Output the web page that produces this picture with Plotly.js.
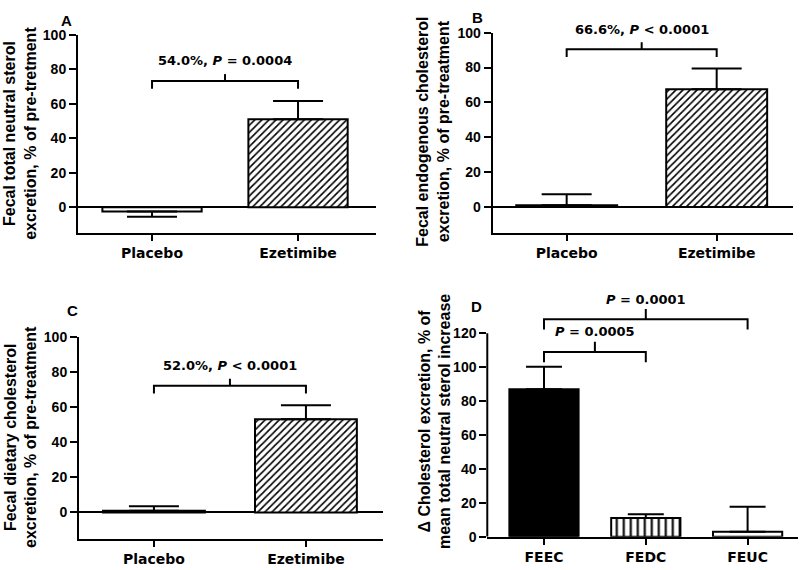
<!DOCTYPE html>
<html>
<head>
<meta charset="utf-8">
<script src="https://cdn.plot.ly/plotly-3.0.1.min.js"></script>
<style>
    body { margin: 0; background: #fff; }
    #fig { width: 800px; height: 570px; }
</style>
</head>
<body>
<div id="fig"></div>
<script>
// values (% of pre-treatment / % of increase)
let groupCats = ['Placebo', 'Ezetimibe'];
let meanA = [-2.5, 51];
let errUpA = [0, 10.6];
let errDownA = [3.1, 0];
let meanB = [1, 67.5];
let errUpB = [6.3, 12];
let meanC = [1, 53.2];
let errUpC = [2.5, 8];

let sourceCats = ['FEEC', 'FEDC', 'FEUC'];
let meanD = [87, 11, 2.9];
let errUpD = [13.3, 2.3, 14.8];

// significance brackets: [from, to, height], labels
let bracketA = [[0, 1, 73.3]];
let labelA = ['54.0%, <i>P</i> = 0.0004'];
let bracketB = [[0, 1, 90.5]];
let labelB = ['66.6%, <i>P</i> < 0.0001'];
let bracketC = [[0, 1, 72.4]];
let labelC = ['52.0%, <i>P</i> < 0.0001'];
let bracketD = [[0, 1, 109], [0, 2, 128.3]];
let labelD = ['<i>P</i> = 0.0005', '<i>P</i> = 0.0001'];

let yTicksTop = [0, 20, 40, 60, 80, 100];
let yTicksD = [0, 20, 40, 60, 80, 100, 120];

let titleA = 'Fecal total neutral sterol<br>excretion, % of pre-tretment';
let titleB = 'Fecal endogenous cholesterol<br>excretion, % of pre-treatment';
let titleC = 'Fecal dietary cholesterol<br>excretion, % of pre-treatment';
let titleD = 'Δ Cholesterol excretion, % of<br>mean total neutral sterol increase';

const ARIAL = 'Liberation Sans, Arial, sans-serif';
const WIDE = 'DejaVu Sans, sans-serif';

let data = [];
let annotations = [];
let shapes = [];

// one trace per bar so every pattern setting stays scalar
function addBars(n, cats, means, errUp, errDown, fills, hatch, barWidth, cap) {
    for (let i = 0; i < cats.length; i++) {
        let marker = {
            color: fills[i],
            line: { color: 'black', width: 2 }
        };
        if (hatch[i]) {
            marker.pattern = {
                shape: hatch[i],
                fgcolor: 'black',
                bgcolor: 'white',
                size: hatch[i] === '|' ? 7 : 5,
                solidity: hatch[i] === '|' ? 0.3 : 0.32,
                fillmode: 'replace'
            };
        }
        data.push({
            type: 'bar',
            x: [i],
            y: [means[i]],
            width: barWidth,
            xaxis: 'x' + n,
            yaxis: 'y' + n,
            marker: marker,
            error_y: {
                type: 'data',
                symmetric: false,
                array: [errUp[i]],
                arrayminus: [errDown[i]],
                color: 'black',
                thickness: 2,
                width: cap
            },
            hoverinfo: 'skip'
        });
    }
}

function addBrackets(n, brackets, labels, drop, tick) {
    for (let i = 0; i < brackets.length; i++) {
        let [a, b, h] = brackets[i];
        let mid = (a + b) / 2;
        data.push({
            type: 'scatter',
            mode: 'lines',
            x: [a, a, b, b, null, mid, mid],
            y: [h - drop, h, h, h - drop, null, h, h + tick],
            xaxis: 'x' + n,
            yaxis: 'y' + n,
            line: { color: 'black', width: 2 },
            hoverinfo: 'skip'
        });
        annotations.push({
            xref: 'x' + n, yref: 'y' + n,
            x: mid, y: h,
            yshift: 20,
            text: '<b>' + labels[i] + '</b>',
            showarrow: false,
            font: { family: WIDE, size: 13, color: 'black' }
        });
    }
}

addBars(1, groupCats, meanA, errUpA, errDownA, ['white', 'white'], ['', '/'], 0.68, 25);
addBars(2, groupCats, meanB, errUpB, [0, 0], ['white', 'white'], ['', '/'], 0.673, 25);
addBars(3, groupCats, meanC, errUpC, [0, 0], ['white', 'white'], ['', '/'], 0.67, 25);
addBars(4, sourceCats, meanD, errUpD, [0, 0, 0], ['black', 'white', 'white'], ['', '|', ''], 0.68, 18);

addBrackets(1, bracketA, labelA, 4.5, 4);
addBrackets(2, bracketB, labelB, 4.5, 4);
addBrackets(3, bracketC, labelC, 4.5, 4);
addBrackets(4, bracketD, labelD, 6, 6);

function xAxis(domain, range, cats) {
    return {
        domain: domain,
        range: range,
        tickvals: cats.map((c, i) => i),
        ticktext: cats,
        showline: true, linecolor: 'black', linewidth: 2,
        ticks: 'outside', ticklen: 6, tickwidth: 2, tickcolor: 'black',
        showgrid: false, zeroline: false, fixedrange: true,
        tickfont: { family: WIDE, size: 14, color: 'black', weight: 'bold' }
    };
}

function yAxis(domain, range, vals, withLine) {
    return {
        domain: domain,
        range: range,
        tickvals: vals,
        ticktext: vals.map(v => '<b>' + v + '</b>'),
        showline: withLine, linecolor: 'black', linewidth: 2,
        ticks: 'outside', ticklen: 7, tickwidth: 2, tickcolor: 'black',
        showgrid: false,
        zeroline: withLine, zerolinecolor: 'black', zerolinewidth: 2,
        fixedrange: true,
        tickfont: { family: ARIAL, size: 14, color: 'black' }
    };
}

let layout = {
    width: 800,
    height: 570,
    margin: { l: 0, r: 0, t: 0, b: 0 },
    showlegend: false,
    paper_bgcolor: 'white',
    plot_bgcolor: 'white',
    xaxis: xAxis([0.0975, 0.47], [-0.507, 1.534], groupCats),
    yaxis: yAxis([0.5912, 0.9386], [-15, 100], yTicksTop, true),
    xaxis2: Object.assign(xAxis([0.6159, 0.9913], [-0.493, 1.509], groupCats), { anchor: 'y2' }),
    yaxis2: Object.assign(yAxis([0.5912, 0.9426], [-15, 100], yTicksTop, true), { anchor: 'x2' }),
    xaxis3: Object.assign(xAxis([0.09875, 0.47875], [-0.493, 1.507], groupCats), { anchor: 'y3' }),
    yaxis3: Object.assign(yAxis([0.0549, 0.4082], [-15, 100], yTicksTop, true), { anchor: 'x3' }),
    xaxis4: Object.assign(xAxis([0.6091, 0.9975], [-0.557, 2.495], sourceCats), { anchor: 'y4' }),
    yaxis4: Object.assign(yAxis([0.0584, 0.4747], [0, 140], yTicksD, false), { anchor: 'x4' }),
    annotations: annotations,
    shapes: shapes
};

// panel D: axis line only runs up to the last tick
shapes.push({
    type: 'line', xref: 'x4 domain', yref: 'y4',
    x0: 0, x1: 0, y0: 0, y1: yTicksD[yTicksD.length - 1],
    line: { color: 'black', width: 2 }
});

// y titles, placed as rotated text beside each panel
let yTitles = [[titleA, 0.0255, 0.766], [titleB, 0.5419, 0.768], [titleC, 0.026, 0.233], [titleD, 0.5435, 0.261]];
for (const [t, px, py] of yTitles) {
    annotations.push({
        xref: 'paper', yref: 'paper', x: px, y: py,
        xanchor: 'center', yanchor: 'middle',
        textangle: -90,
        text: '<b>' + t + '</b>', showarrow: false,
        font: { family: ARIAL, size: 16, color: 'black' }
    });
}

// panel letters
let letters = [['A', 0.074, 0.982], ['B', 0.597, 0.987], ['C', 0.081, 0.456], ['D', 0.595, 0.463]];
for (const [t, px, py] of letters) {
    annotations.push({
        xref: 'paper', yref: 'paper', x: px, y: py,
        text: '<b>' + t + '</b>', showarrow: false,
        font: { family: ARIAL, size: 15, color: 'black' }
    });
}

Plotly.newPlot('fig', data, layout, { displayModeBar: false });
</script>
</body>
</html>
